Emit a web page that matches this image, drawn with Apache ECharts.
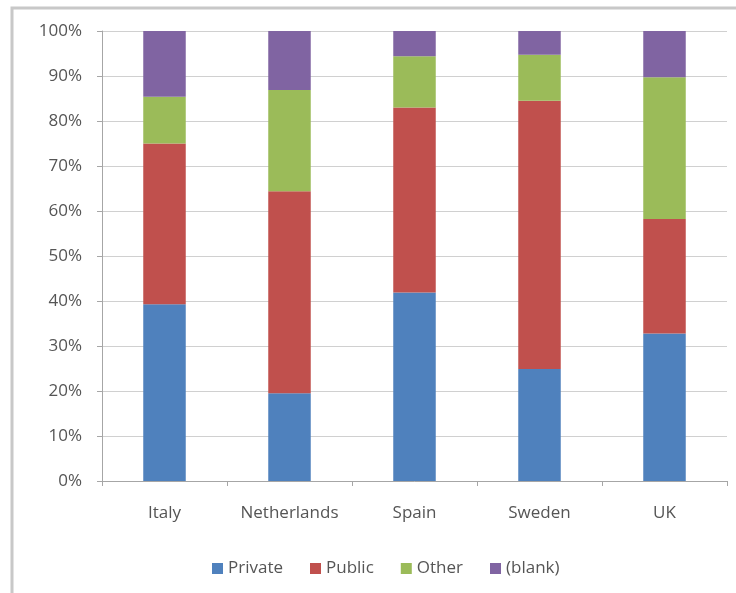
<!DOCTYPE html>
<html>
<head>
<meta charset="utf-8">
<script src="https://cdn.jsdelivr.net/npm/echarts@6/dist/echarts.min.js"></script>
<style>
  html, body { margin: 0; padding: 0; background: #ffffff; }
  #chart { width: 736px; height: 593px; }
</style>
</head>
<body>
<div id="chart"></div>
<script>
// Share of each category by country (percent, stacked to 100)
const countries = ['Italy', 'Netherlands', 'Spain', 'Sweden', 'UK'];
const privateShare = [39.3, 19.5, 41.9, 24.9, 32.8];
const publicShare  = [35.7, 44.9, 41.1, 59.6, 25.4];
const otherShare   = [10.4, 22.5, 11.4, 10.2, 31.5];
const blankShare   = [14.6, 13.1, 5.6, 5.3, 10.3];
const seriesNames  = ['Private', 'Public', 'Other', '(blank)'];
const seriesColors = ['#4f81bd', '#c0504d', '#9bbb59', '#8064a2'];
const yTicks = [0, 10, 20, 30, 40, 50, 60, 70, 80, 90, 100];

const textColor = '#555555';
const fontFamily = '"Open Sans", "Liberation Sans", sans-serif';
const fontSize = 17;

const seriesData = [privateShare, publicShare, otherShare, blankShare];

const chart = echarts.init(document.getElementById('chart'));
chart.setOption({
  animation: false,
  backgroundColor: '#ffffff',
  graphic: [{
    type: 'rect',
    shape: { x: 12, y: 8, width: 800, height: 700 },
    style: { fill: 'none', stroke: '#c8c8c8', lineWidth: 3 },
    z: -1
  }],
  grid: { left: 102, right: 9, top: 31, bottom: 112, containLabel: false },
  legend: {
    bottom: 11,
    left: 207,
    itemWidth: 11,
    itemHeight: 11,
    itemGap: 27,
    icon: 'rect',
    textStyle: { color: textColor, fontSize: fontSize, fontFamily: fontFamily },
    data: seriesNames
  },
  xAxis: {
    type: 'category',
    data: countries,
    axisLine: { lineStyle: { color: '#a6a6a6', width: 1 } },
    axisTick: { show: true, alignWithLabel: false, length: 5, lineStyle: { color: '#a6a6a6' } },
    axisLabel: { interval: 0, color: textColor, fontSize: fontSize, fontFamily: fontFamily, margin: 24 }
  },
  yAxis: {
    type: 'value',
    min: 0,
    max: 100,
    interval: 10,
    axisLine: { show: true, lineStyle: { color: '#a6a6a6', width: 1 } },
    axisTick: { show: true, length: 5, lineStyle: { color: '#a6a6a6' } },
    splitLine: { lineStyle: { color: '#d0d0d0', width: 1 } },
    axisLabel: {
      color: textColor, fontSize: fontSize, fontFamily: fontFamily, margin: 20,
      formatter: function (v) { return yTicks.indexOf(v) >= 0 ? v + '%' : ''; }
    }
  },
  series: seriesNames.map(function (name, i) {
    return {
      name: name,
      type: 'bar',
      stack: 'share',
      barWidth: '34%',
      itemStyle: { color: seriesColors[i] },
      data: seriesData[i]
    };
  })
});
</script>
</body>
</html>
